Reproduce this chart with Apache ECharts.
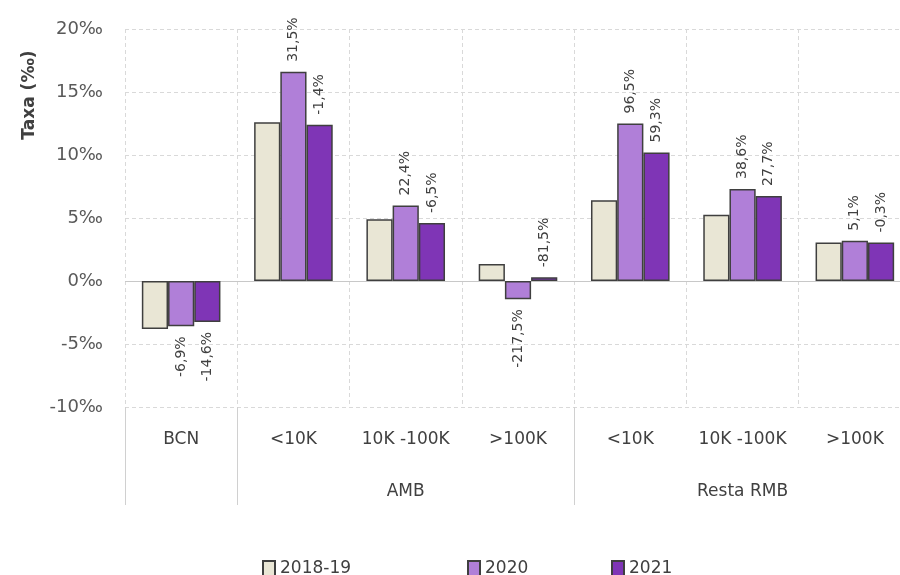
<!DOCTYPE html>
<html>
<head>
<meta charset="utf-8">
<script src="https://cdn.jsdelivr.net/npm/echarts@6/dist/echarts.min.js"></script>
<style>html,body{margin:0;padding:0;background:#fff;overflow:hidden;width:900px;height:575px}#c{width:911px;height:575px}</style>
</head>
<body>
<div id="c"></div>
<script>
var categories = ['BCN', '<10K', '10K -100K', '>100K', '<10K', '10K -100K', '>100K'];
var groupLabels = ['', '', 'AMB', '', '', 'Resta RMB', ''];
var seriesNames = ['2018-19', '2020', '2021'];
var v2018 = [-3.8, 12.6, 4.9, 1.35, 6.4, 5.25, 3.05];
var v2020 = [-3.6, 16.6, 6.0, -1.45, 12.5, 7.3, 3.2];
var v2021 = [-3.25, 12.4, 4.6, 0.3, 10.2, 6.75, 3.05];
var lab2020 = ['-6,9%', '31,5%', '22,4%', '-217,5%', '96,5%', '38,6%', '5,1%'];
var lab2021 = ['-14,6%', '-1,4%', '-6,5%', '-81,5%', '59,3%', '27,7%', '-0,3%'];
var yTicks = { min: -10, max: 20, interval: 5 };

var FONT = 'DejaVu Sans';
var colors = ['#e9e6d5', '#b07fd8', '#7f35b6'];

function withLabels(vals, labs) {
  return vals.map(function (v, i) {
    var pos = v >= 0;
    return {
      value: v,
      label: labs ? {
        show: true,
        formatter: labs[i],
        position: pos ? 'top' : 'bottom',
        rotate: 90,
        align: pos ? 'left' : 'right',
        verticalAlign: 'middle',
        distance: 10,
        fontFamily: FONT,
        fontSize: 14,
        color: '#404040'
      } : { show: false }
    };
  });
}

function mkSeries(name, vals, labs, idx) {
  var s = {
    name: name,
    type: 'bar',
    data: withLabels(vals, labs),
    barGap: '0%',
    barCategoryGap: '30%',
    itemStyle: { color: colors[idx], borderColor: '#3f3f3f', borderWidth: 1.5 }
  };
  if (idx === 0) {
    s.markLine = {
      silent: true, symbol: 'none', z: 1,
      label: { show: false },
      lineStyle: { color: '#c8c8c8', type: 'solid', width: 1 },
      data: [{ yAxis: 0 }]
    };
  }
  return s;
}

var chart = echarts.init(document.getElementById('c'));
var legendBase = {
  itemWidth: 12, itemHeight: 16, top: 555, icon: 'rect',
  textStyle: { fontFamily: FONT, fontSize: 17, color: '#404040' }
};
chart.setOption({
  animation: false,
  textStyle: { fontFamily: FONT },
  grid: { left: 125, top: 29, right: 0, bottom: 168 },
  legend: [
    Object.assign({ data: ['2018-19'], left: 257 }, legendBase),
    Object.assign({ data: ['2020'], left: 462 }, legendBase),
    Object.assign({ data: ['2021'], left: 606 }, legendBase)
  ],
  xAxis: [
    {
      type: 'category', data: categories, position: 'bottom',
      axisLine: { show: false, onZero: false },
      axisTick: {
        show: true, length: 98,
        interval: function (i) { return i === 0 || i === 1 || i === 4 || i === 7; },
        lineStyle: { color: '#d0d0d0', width: 1 }
      },
      axisLabel: { interval: 0, margin: 24, fontFamily: FONT, fontSize: 17, color: '#404040' },
      splitLine: { show: true, interval: 0, lineStyle: { color: '#d9d9d9', type: [4, 3], width: 1 } }
    },
    {
      type: 'category', data: groupLabels, position: 'bottom',
      axisLine: { show: false, onZero: false }, axisTick: { show: false },
      axisLabel: { interval: 0, margin: 76, fontFamily: FONT, fontSize: 17, color: '#404040' },
      splitLine: { show: false }
    }
  ],
  yAxis: {
    type: 'value', min: yTicks.min, max: yTicks.max, interval: yTicks.interval,
    axisLine: { show: false }, axisTick: { show: false },
    axisLabel: { formatter: '{value}‰', margin: 22, fontFamily: FONT, fontSize: 18, color: '#595959' },
    splitLine: { lineStyle: { color: '#d9d9d9', type: [4, 3], width: 1 } }
  },
  graphic: [{
    type: 'text', x: 30, y: 95, rotation: Math.PI / 2,
    style: { text: 'Taxa (‰)', font: 'bold 17px "DejaVu Sans"', fill: '#404040', textAlign: 'center', textVerticalAlign: 'middle' }
  }],
  series: [
    mkSeries(seriesNames[0], v2018, null, 0),
    mkSeries(seriesNames[1], v2020, lab2020, 1),
    mkSeries(seriesNames[2], v2021, lab2021, 2)
  ]
});
</script>
</body>
</html>
